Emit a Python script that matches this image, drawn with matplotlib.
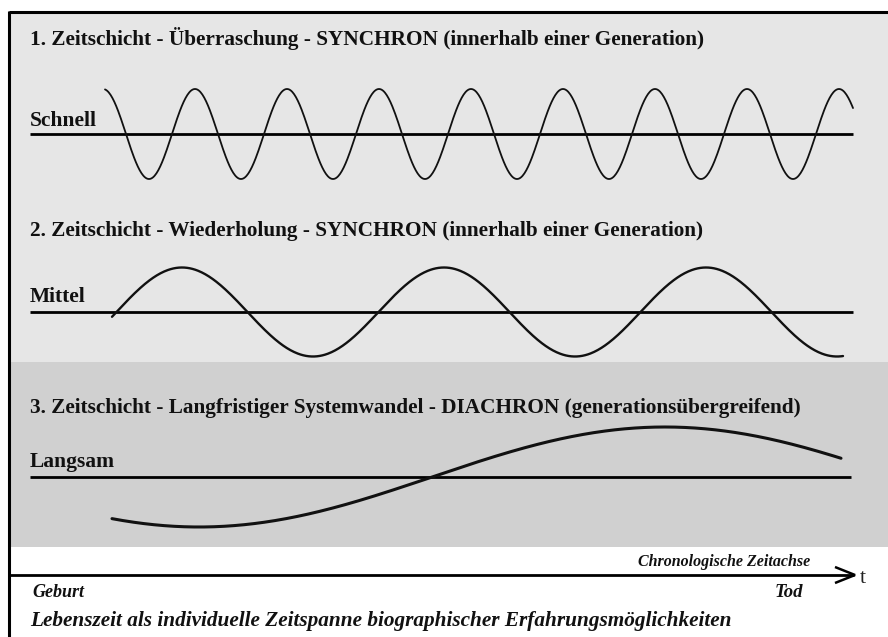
import numpy as np
import matplotlib
matplotlib.use("Agg")
import matplotlib.pyplot as plt

# ---- data ----
layer_titles = [
    "1. Zeitschicht - Überraschung - SYNCHRON (innerhalb einer Generation)",
    "2. Zeitschicht - Wiederholung - SYNCHRON (innerhalb einer Generation)",
    "3. Zeitschicht - Langfristiger Systemwandel - DIACHRON (generationsübergreifend)",
]
speed_labels = ["Schnell", "Mittel", "Langsam"]
# wave parameters (pixel units of the diagram)
wave_start = [105, 112, 112]
wave_end = [853, 843, 841]
wave_period = [92, 262, 932]
wave_peak_x = [195, 182, 665]
wave_amplitude = [45, 44.5, 50]
baseline_y = [134, 312, 477]
baseline_end = [853, 853, 851]
axis_title = "Chronologische Zeitachse"
axis_start_label = "Geburt"
axis_end_label = "Tod"
axis_symbol = "t"
footer = "Lebenszeit als individuelle Zeitspanne biographischer Erfahrungsmöglichkeiten"

# ---- layout ----
W, H = 888, 637
fig = plt.figure(figsize=(W / 100, H / 100), dpi=100)
ax = fig.add_axes([0, 0, 1, 1])
ax.set_xlim(0, W)
ax.set_ylim(H, 0)
ax.axis("off")

serif = ["Liberation Serif", "DejaVu Serif"]

# panels
ax.axhspan(12, 362, xmin=9 / W, xmax=1, color="#e6e6e6", zorder=0, lw=0)
ax.axhspan(362, 547, xmin=9 / W, xmax=1, color="#d0d0d0", zorder=0, lw=0)

# frame
ax.plot([9, W], [12, 12], color="black", lw=2.2, solid_capstyle="butt")
ax.plot([9, 9], [11, H], color="black", lw=2.2, solid_capstyle="butt")

title_base = [45, 236, 413]
label_base = [126, 302, 467]
wave_lw = [1.3, 1.7, 2.2]

for i in range(3):
    ax.text(30, title_base[i], layer_titles[i], family=serif, weight="bold",
            fontsize=15.3, va="baseline", ha="left", color="#111111")
    ax.text(30, label_base[i], speed_labels[i], family=serif, weight="bold",
            fontsize=15.5, va="baseline", ha="left", color="#111111")
    ax.plot([30, baseline_end[i]], [baseline_y[i], baseline_y[i]],
            color="black", lw=2.0, solid_capstyle="butt")
    x = np.linspace(wave_start[i], wave_end[i], 800)
    y = baseline_y[i] - wave_amplitude[i] * np.cos(2 * np.pi * (x - wave_peak_x[i]) / wave_period[i])
    ax.plot(x, y, color="#111111", lw=wave_lw[i], solid_capstyle="round")

# time axis
ax.plot([9, 854], [575, 575], color="black", lw=2.0, solid_capstyle="butt")
ax.plot([835, 855, 835], [567, 575, 583], color="black", lw=1.8,
        solid_joinstyle="miter", solid_capstyle="butt")
ax.text(810, 566, axis_title, family=serif, weight="bold", style="italic",
        fontsize=11.5, ha="right", va="baseline", color="#111111")
ax.text(860, 583, axis_symbol, family=serif, fontsize=16, ha="left",
        va="baseline", color="#222222")
ax.text(32, 597, axis_start_label, family=serif, weight="bold", style="italic",
        fontsize=13, ha="left", va="baseline", color="#111111")
ax.text(803, 597, axis_end_label, family=serif, weight="bold", style="italic",
        fontsize=13.5, ha="right", va="baseline", color="#111111")
ax.text(30, 626, footer, family=serif, weight="bold", style="italic",
        fontsize=15.3, ha="left", va="baseline", color="#111111")

fig.savefig("out.png", dpi=100, facecolor="white")
